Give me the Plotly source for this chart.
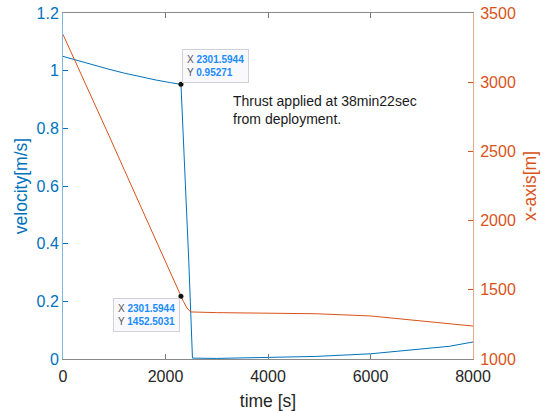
import plotly.graph_objects as go

# ---- data ----
t_vel = [0, 300, 600, 900, 1200, 1500, 1800, 2100, 2301.5944, 2454, 2526,
         3000, 4000, 4941, 6000, 6888, 7537, 8000]
velocity = [1.0495, 1.0340, 1.0190, 1.0047, 0.9913, 0.9790, 0.9680, 0.9584, 0.95271, 0.34, 0.003,
            0.002, 0.0045, 0.009, 0.018, 0.032, 0.044, 0.059]

t_pos = [0, 300, 600, 900, 1200, 1500, 1800, 2100, 2301.5944, 2350, 2417, 2490,
         3000, 3641, 4000, 4941, 6000, 6888, 7537, 8000]
x_pos = [3345, 3105, 2860, 2612, 2363, 2114, 1865, 1617, 1452.5031, 1415, 1370, 1340,
         1335, 1332, 1330, 1327, 1311, 1279, 1260, 1238]

tip_t = 2301.5944
tip_vel = 0.95271
tip_pos = 1452.5031

x_ticks = [0, 2000, 4000, 6000, 8000]
vel_ticks = [0, 0.2, 0.4, 0.6, 0.8, 1, 1.2]
pos_ticks = [1000, 1500, 2000, 2500, 3000, 3500]

BLUE = "#0072BD"
ORANGE = "#D95319"
DARK = "#262626"
FONT = "Liberation Sans, Arial, sans-serif"

fig = go.Figure()
fig.add_trace(go.Scatter(x=t_vel, y=velocity, mode="lines",
                         line=dict(color=BLUE, width=1), yaxis="y", showlegend=False))
fig.add_trace(go.Scatter(x=t_pos, y=x_pos, mode="lines",
                         line=dict(color=ORANGE, width=1), yaxis="y2", showlegend=False))
fig.add_trace(go.Scatter(x=[tip_t], y=[tip_vel], mode="markers",
                         marker=dict(color="#111111", size=5), yaxis="y", showlegend=False))
fig.add_trace(go.Scatter(x=[tip_t], y=[tip_pos], mode="markers",
                         marker=dict(color="#111111", size=5), yaxis="y2", showlegend=False))


def tip_text(label_x, label_y):
    return ("<span style='color:#555555'>X</span> <b><span style='color:#1a8cff'>%s</span></b><br>"
            "<span style='color:#555555'>Y</span> <b><span style='color:#1a8cff'>%s</span></b>"
            % (label_x, label_y))


fig.update_layout(
    width=545, height=411, autosize=False,
    margin=dict(l=63, r=72, t=13, b=52),
    plot_bgcolor="white", paper_bgcolor="white",
    font=dict(family=FONT, color=DARK),
    xaxis=dict(range=[0, 8000], tickvals=x_ticks, ticks="inside", ticklen=5,
               tickcolor="#7a7a7a", showline=True, linecolor="#8a8a8a", linewidth=1,
               mirror="ticks", showgrid=False, zeroline=False, automargin=False,
               ticklabelstandoff=3,
               tickfont=dict(size=16, color=DARK),
               title=dict(text="time [s]", font=dict(size=17.5, color=DARK), standoff=10)),
    yaxis=dict(range=[0, 1.2], tickvals=vel_ticks, ticks="inside", ticklen=5,
               tickcolor=BLUE, showline=True, linecolor="#7fb6de", linewidth=1,
               showgrid=False, zeroline=False, automargin=False,
               tickfont=dict(size=16, color=BLUE),
               title=dict(text="velocity[m/s]", font=dict(size=17.5, color=BLUE), standoff=4)),
    yaxis2=dict(range=[1000, 3500], tickvals=pos_ticks, overlaying="y", side="right",
                ticks="inside", ticklen=5, tickcolor=ORANGE, showline=True,
                linecolor="#eca98c", linewidth=1, showgrid=False, zeroline=False,
                automargin=False, ticklabelstandoff=3,
                tickfont=dict(size=16, color=ORANGE),
                title=dict(text="x-axis[m]", font=dict(size=17.5, color=ORANGE), standoff=8)),
    annotations=[
        dict(x=tip_t, y=tip_vel, xref="x", yref="y", showarrow=False,
             xanchor="left", yanchor="bottom", xshift=1, yshift=1, align="left",
             text=tip_text("2301.5944", "0.95271"),
             font=dict(size=10, family=FONT), bgcolor="#f9f9fd",
             bordercolor="#d0d0d8", borderwidth=1, borderpad=4),
        dict(x=tip_t, y=tip_pos, xref="x", yref="y2", showarrow=False,
             xanchor="right", yanchor="top", xshift=-1, yshift=-2, align="left",
             text=tip_text("2301.5944", "1452.5031"),
             font=dict(size=10, family=FONT), bgcolor="#f9f9fd",
             bordercolor="#d0d0d8", borderwidth=1, borderpad=4),
        dict(x=3285, y=0.8646, xref="x", yref="y", showarrow=False,
             xanchor="left", yanchor="middle", align="left",
             text="Thrust applied at 38min22sec<br>from deployment.",
             font=dict(size=14, family=FONT, color="#1a1a1a")),
    ],
)

fig.write_html("out.html")
